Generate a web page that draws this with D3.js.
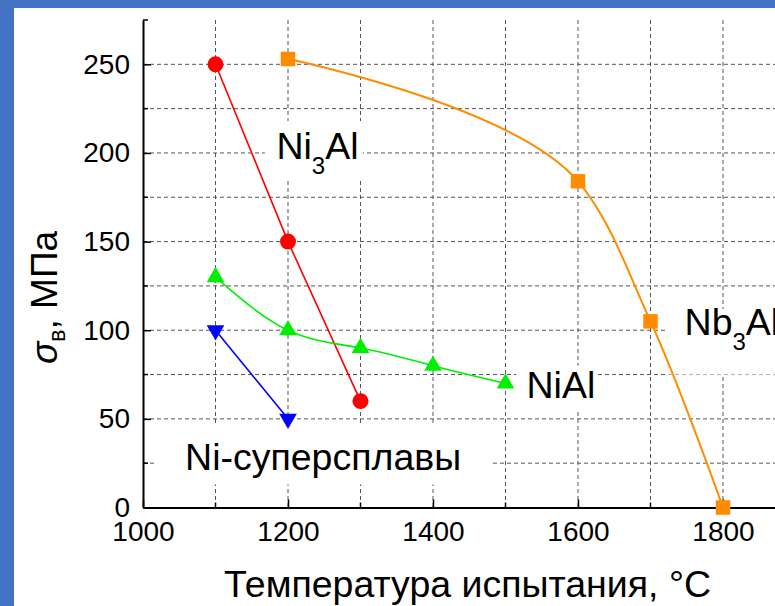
<!DOCTYPE html>
<meta charset="utf-8">
<style>
    body { margin: 0; background: #4472c4; }
    svg { display: block; font-family: "Liberation Sans", Arial, sans-serif; }
</style>
<body>
<script src="https://d3js.org/d3.v7.min.js"></script>
<script>

// Data (temperature in °C, strength in MPa)
var ni3alT = [1100, 1200, 1300];
var ni3alS = [250, 150, 60];

var nb3alT = [1200, 1600, 1700, 1800];
var nb3alS = [253, 184, 105, 0];

var nialT = [1100, 1200, 1300, 1400, 1500];
var nialS = [130, 100, 90, 80, 70];

var superT = [1100, 1200];
var superS = [100, 50];

var xMajor = [1000, 1200, 1400, 1600, 1800];
var xMinor = [1100, 1300, 1500, 1700, 1900];
var yMajor = [0, 50, 100, 150, 200, 250];
var yMinor = [25, 75, 125, 175, 225, 275];

var width = 775, height = 606;

var svg = d3.select("body").append("svg")
    .attr("width", width)
    .attr("height", height);

// white panel inside the blue frame
svg.append("rect")
    .attr("x", 14).attr("y", 8)
    .attr("width", width).attr("height", height)
    .attr("fill", "#fff");

var x = d3.scaleLinear().domain([1000, 1900]).range([143, 795.5]);
var y = d3.scaleLinear().domain([0, 275]).range([507.5, 20]);

// grid
var grid = svg.append("g")
    .attr("stroke", "#555")
    .attr("stroke-width", 1)
    .attr("stroke-dasharray", "4,3");

grid.selectAll(".vg")
    .data(xMajor.concat(xMinor).filter(function(d) { return d > 1000; }))
    .enter().append("line")
    .attr("x1", function(d) { return x(d); })
    .attr("x2", function(d) { return x(d); })
    .attr("y1", y(275))
    .attr("y2", y(0));

grid.selectAll(".hg")
    .data(yMajor.concat(yMinor).filter(function(d) { return d > 0 && d < 275; }))
    .enter().append("line")
    .attr("x1", x(1000))
    .attr("x2", width)
    .attr("y1", function(d) { return y(d); })
    .attr("y2", function(d) { return y(d); });

// white boxes behind the curve labels (cover the grid)
var boxes = [
    {x0: 1168, x1: 1303, y0: 218, y1: 185},
    {x0: 1724, x1: 1900, y0: 112, y1: 75},
    {x0: 1515, x1: 1627, y0: 80, y1: 55},
    {x0: 1019, x1: 1480, y0: 46, y1: 13}
];
svg.append("g").selectAll("rect")
    .data(boxes)
    .enter().append("rect")
    .attr("x", function(d) { return x(d.x0); })
    .attr("y", function(d) { return y(d.y0); })
    .attr("width", function(d) { return x(d.x1) - x(d.x0); })
    .attr("height", function(d) { return y(d.y1) - y(d.y0); })
    .attr("fill", "#fff");

// axes
var xAxis = svg.append("g")
    .attr("transform", "translate(0," + y(0) + ")")
    .call(d3.axisBottom(x).tickValues(xMajor).tickFormat(d3.format("d"))
        .tickSize(-8).tickPadding(14).tickSizeOuter(0));
var yAxis = svg.append("g")
    .attr("transform", "translate(" + x(1000) + ",0)")
    .call(d3.axisLeft(y).tickValues(yMajor).tickSize(-8).tickPadding(13).tickSizeOuter(0));

[xAxis, yAxis].forEach(function(a) {
    a.select(".domain").attr("stroke", "#000").attr("stroke-width", 2);
    a.selectAll(".tick line").attr("stroke", "#000").attr("stroke-width", 1.5);
    a.selectAll(".tick text").attr("fill", "#000").style("font-size", "28px")
        .style("font-family", "'Liberation Sans', Arial, sans-serif");
});

svg.append("g").selectAll("line")
    .data(xMinor)
    .enter().append("line")
    .attr("x1", function(d) { return x(d); })
    .attr("x2", function(d) { return x(d); })
    .attr("y1", y(0))
    .attr("y2", y(0) - 5)
    .attr("stroke", "#000").attr("stroke-width", 1.5);

svg.append("g").selectAll("line")
    .data(yMinor)
    .enter().append("line")
    .attr("x1", x(1000))
    .attr("x2", x(1000) + 5)
    .attr("y1", function(d) { return y(d); })
    .attr("y2", function(d) { return y(d); })
    .attr("stroke", "#000").attr("stroke-width", 1.5);

// series
function zip(a, b) {
    return a.map(function(v, i) { return [v, b[i]]; });
}

var series = [
    {pts: zip(ni3alT, ni3alS), color: "#ff0000", w: 1.6, curve: d3.curveLinear, symbol: d3.symbolCircle, size: 200, rot: 0},
    {pts: zip(nb3alT, nb3alS), color: "#ff8c00", w: 2, curve: d3.curveCatmullRom.alpha(1), symbol: d3.symbolSquare, size: 210, rot: 0},
    {pts: zip(nialT, nialS), color: "#00ee00", w: 1.6, curve: d3.curveNatural, symbol: d3.symbolTriangle, size: 135, rot: 0},
    {pts: zip(superT, superS), color: "#0000ff", w: 1.6, curve: d3.curveLinear, symbol: d3.symbolTriangle, size: 135, rot: 180}
];

series.forEach(function(s) {
    var line = d3.line()
        .x(function(d) { return x(d[0]); })
        .y(function(d) { return y(d[1]); })
        .curve(s.curve);

    svg.append("path")
        .attr("d", line(s.pts))
        .attr("fill", "none")
        .attr("stroke", s.color)
        .attr("stroke-width", s.w);

    svg.append("g").selectAll("path")
        .data(s.pts)
        .enter().append("path")
        .attr("d", d3.symbol().type(s.symbol).size(s.size))
        .attr("transform", function(d) {
            return "translate(" + x(d[0]) + "," + y(d[1]) + ") rotate(" + s.rot + ")";
        })
        .attr("fill", s.color);
});

// curve labels
var labels = [
    {t: 1184, v: 196.4, parts: ["Ni", "3", "Al"]},
    {t: 1747, v: 97.2, parts: ["Nb", "3", "Al"]},
    {t: 1529, v: 61.7, parts: ["NiAl"]},
    {t: 1058, v: 21.1, parts: ["Ni-суперсплавы"]}
];

labels.forEach(function(l) {
    var txt = svg.append("text")
        .attr("x", x(l.t))
        .attr("y", y(l.v))
        .style("font-size", "37.5px")
        .attr("fill", "#000");
    txt.append("tspan").text(l.parts[0]);
    if (l.parts.length > 1) {
        txt.append("tspan").attr("dy", 15).style("font-size", "24px").text(l.parts[1]);
        txt.append("tspan").attr("dy", -15).text(l.parts[2]);
    }
});

// axis titles
svg.append("text")
    .attr("x", 224)
    .attr("y", 597)
    .style("font-size", "37.5px")
    .attr("fill", "#000")
    .text("Температура испытания, °C");

var yt = svg.append("text")
    .attr("transform", "translate(57,364) rotate(-90)")
    .style("font-size", "37px")
    .attr("fill", "#000");
yt.append("tspan").style("font-style", "italic").text("σ");
yt.append("tspan").attr("dy", 8).style("font-size", "23px").text("в");
yt.append("tspan").attr("dy", -8).text(", МПа");

</script>
</body>
